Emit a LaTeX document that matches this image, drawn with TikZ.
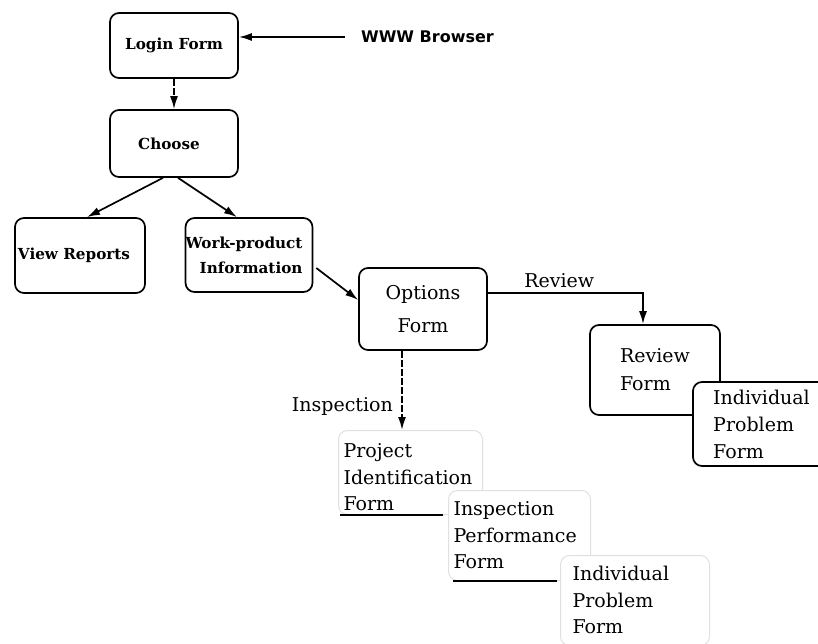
\documentclass[tikz,border=0pt]{standalone}
\usepackage{fontspec}
\setmainfont{DejaVu Serif}
\newfontfamily\uisans{DejaVu Sans}
\usetikzlibrary{arrows.meta,calc}
\begin{document}
\begin{tikzpicture}[x=1pt,y=-1pt,
  frame/.style={draw, line width=1.7pt, rounded corners=9pt, fill=white, inner sep=0pt},
  bigtext/.style={font=\fontsize{19}{27}\selectfont},
  boldtext/.style={font=\fontsize{15.2}{25}\selectfont\bfseries},
  faint/.style={draw=black!12, line width=1pt, rounded corners=9pt, fill=white,
    inner ysep=0pt, align=left, anchor=north west, font=\fontsize{19}{26.5}\selectfont},
  link/.style={line width=1.7pt, -{Latex[length=13pt,width=8pt]}},
  dlink/.style={link, dash pattern=on 7pt off 2pt}]
\useasboundingbox (0,0) rectangle (818,644);
\clip (0,0) rectangle (818,644);

% main boxes
\node[frame, boldtext, minimum width=128, minimum height=65] (login) at (174,45.5) {Login Form};
\node[frame, boldtext, minimum width=128, minimum height=67] (choose) at (174,143.5) {\hspace*{-10pt}Choose};
\node[frame, boldtext, minimum width=130, minimum height=75] (view) at (80,255.5)
  {\hspace*{-12pt}View Reports};
\node[frame, boldtext, align=right, minimum width=126, minimum height=74] (work) at (249,255)
  {Work-product\hspace*{10pt}\\Information\hspace*{10pt}};
\node[frame, bigtext, align=center, minimum width=128, minimum height=82,
  font=\fontsize{19}{33}\selectfont] (opt) at (423,309) {Options\\Form};
\node[frame, bigtext, align=left, minimum width=130, minimum height=90,
  font=\fontsize{19}{28}\selectfont] (rev) at (655,370) {Review\\Form};
\node[frame, bigtext, align=left, minimum width=137, minimum height=84] (ind) at (761.5,424)
  {Individual\\Problem\\Form};

\node[font=\uisans\bfseries\fontsize{16}{19}\selectfont] (www) at (427.5,37) {WWW Browser};

% inspection cascade (outlines barely printed)
\node[faint, inner xsep=5pt, text width=134pt] (proj) at (338,430)
  {\rule{0pt}{27pt}Project\\Identification\\Form\rule[-4pt]{0pt}{0pt}};
\node[faint, inner xsep=5pt, text width=132pt] (insp) at (448,490)
  {\rule{0pt}{25pt}Inspection\\Performance\\Form\rule[-12pt]{0pt}{0pt}};
\node[faint, inner xsep=12pt, text width=125pt] (indb) at (560,555)
  {\rule{0pt}{25pt}Individual\\Problem\\Form\rule[-12pt]{0pt}{0pt}};
\draw[line width=1.5pt] ($(proj.south west)+(2,0)$) -- ($(proj.south -| insp.west)+(-5,0)$);
\draw[line width=1.5pt] ($(insp.south west)+(5,0)$) -- ($(insp.south -| indb.west)+(-3,0)$);

% connectors
\draw[link, shorten <=13pt] (www.west) -- (www.west -| login.east);
\draw[dlink] (login.south) -- (choose.north);
\draw[link] ($(choose.south)+(-11,0)$) -- ($(view.north)+(7,0)$);
\draw[link] ($(choose.south)+(4,0)$) -- ($(work.north)+(-12,0)$);
\draw[link] ($(work.east)+(3,13)$) -- ($(opt.west)+(0,-9)$);
\draw[link] ($(opt.east)+(0,-16)$) -| ($(rev.north)+(-12,0)$)
  node[pos=0.23, above=1pt, bigtext] (revlab) {Review};
\coordinate (ia) at ($(opt.south)+(-21,0)$);
\draw[dlink] (ia) -- (ia |- proj.north)
  node[pos=0.7, left=5pt, bigtext] (insplab) {Inspection};
\end{tikzpicture}
\end{document}
